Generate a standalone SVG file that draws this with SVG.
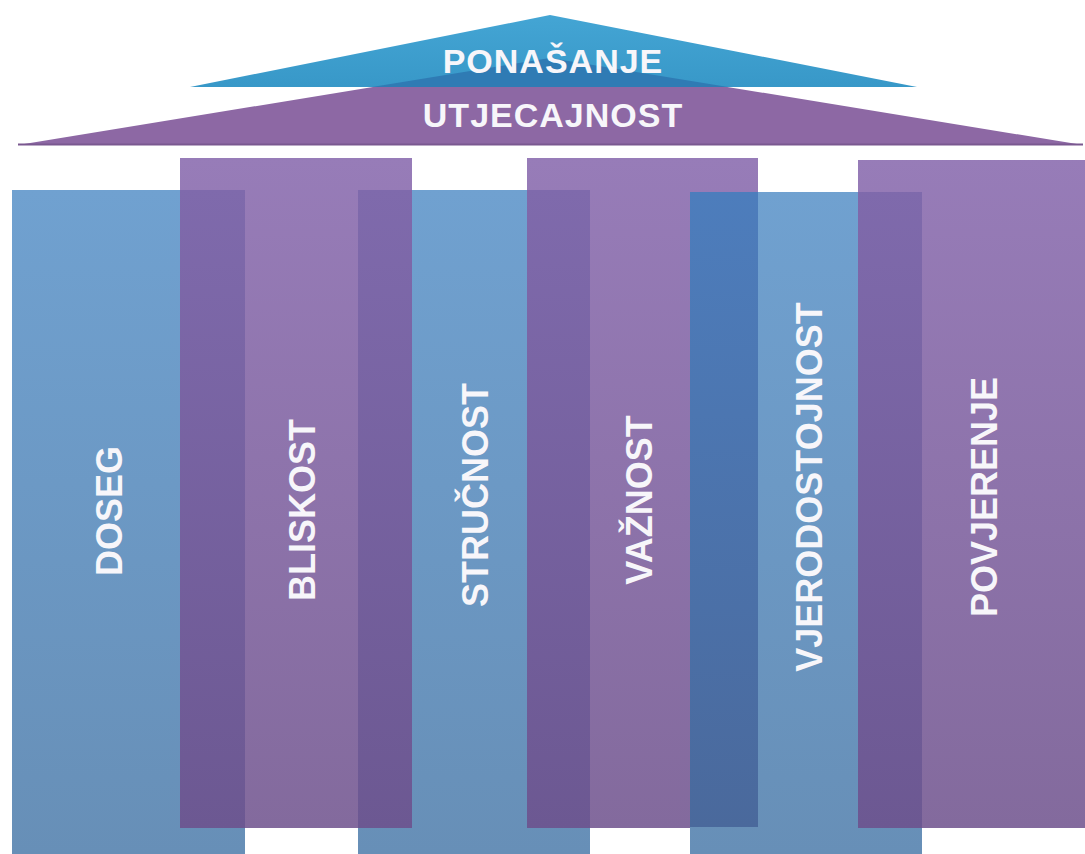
<svg xmlns="http://www.w3.org/2000/svg" width="1085" height="854" viewBox="0 0 1085 854">
<defs>
<linearGradient id="gBlue" gradientUnits="userSpaceOnUse" x1="0" y1="190" x2="0" y2="854">
<stop offset="0" stop-color="#70a1d0"/><stop offset="1" stop-color="#678fb7"/>
</linearGradient>
<linearGradient id="gPurple" gradientUnits="userSpaceOnUse" x1="0" y1="158" x2="0" y2="828">
<stop offset="0" stop-color="#977cb8"/><stop offset="1" stop-color="#836a9d"/>
</linearGradient>
<linearGradient id="gDarkPurple" gradientUnits="userSpaceOnUse" x1="0" y1="190" x2="0" y2="828">
<stop offset="0" stop-color="#7f6aac"/><stop offset="1" stop-color="#6c5892"/>
</linearGradient>
<linearGradient id="gDarkBlue" gradientUnits="userSpaceOnUse" x1="0" y1="192" x2="0" y2="828">
<stop offset="0" stop-color="#4d7dbc"/><stop offset="1" stop-color="#4a699c"/>
</linearGradient>
<linearGradient id="gRoofBlue" gradientUnits="userSpaceOnUse" x1="0" y1="15" x2="0" y2="87">
<stop offset="0" stop-color="#44a5d4"/><stop offset="1" stop-color="#3898c8"/>
</linearGradient>
</defs>
<style>
.lbl{font-family:"Liberation Sans",Arial,sans-serif;font-weight:bold;fill:#f7f6fa;text-anchor:middle;}
.col{font-size:36px;}
.roof{font-size:34px;letter-spacing:1px;}
.blue{fill:url(#gBlue);}
.purple{fill:url(#gPurple);}
.dp{fill:url(#gDarkPurple);}
.db{fill:url(#gDarkBlue);}
</style>
<rect width="1085" height="854" fill="#ffffff"/>

<g id="roof-utjecajnost">
<polygon points="18,145 550,58 1083,145" fill="#8d68a4"/>
<line x1="18" y1="144.5" x2="1083" y2="144.5" stroke="#7a5890" stroke-width="2"/>
<text class="lbl roof" x="553" y="127">UTJECAJNOST</text>
</g>
<g id="roof-ponasanje">
<polygon points="190,87 550,15 917,87" fill="url(#gRoofBlue)"/>
<polygon points="372,87 550,58 728,87" fill="#2f7bb4"/>
<text class="lbl roof" x="553" y="73">PONAŠANJE</text>
</g>

<g id="col-doseg">
<rect class="blue" x="12" y="190" width="233" height="664"/>
<text class="lbl col" transform="translate(122,511) rotate(-90)">DOSEG</text>
</g>
<g id="col-strucnost">
<rect class="blue" x="358" y="190" width="232" height="664"/>
<text class="lbl col" transform="translate(488,495) rotate(-90)">STRUČNOST</text>
</g>
<g id="col-bliskost">
<rect class="purple" x="180" y="158" width="232" height="670"/>
<rect class="dp" x="180" y="190" width="65" height="638"/>
<rect class="dp" x="358" y="190" width="54" height="638"/>
<text class="lbl col" transform="translate(315,510) rotate(-90)">BLISKOST</text>
</g>
<g id="col-vaznost">
<rect class="purple" x="527" y="158" width="231" height="670"/>
<rect class="dp" x="527" y="190" width="63" height="638"/>
<text class="lbl col" transform="translate(652,500) rotate(-90)">VAŽNOST</text>
</g>
<g id="col-vjerodostojnost">
<rect class="blue" x="690" y="192" width="232" height="662"/>
<rect class="db" x="690" y="192" width="68" height="635"/>
<text class="lbl col" transform="translate(822,487) rotate(-90)">VJERODOSTOJNOST</text>
</g>
<g id="col-povjerenje">
<rect class="purple" x="858" y="160" width="227" height="668"/>
<rect class="dp" x="858" y="192" width="64" height="636"/>
<text class="lbl col" transform="translate(997,497) rotate(-90)">POVJERENJE</text>
</g>

<g id="connectors"></g>
</svg>
